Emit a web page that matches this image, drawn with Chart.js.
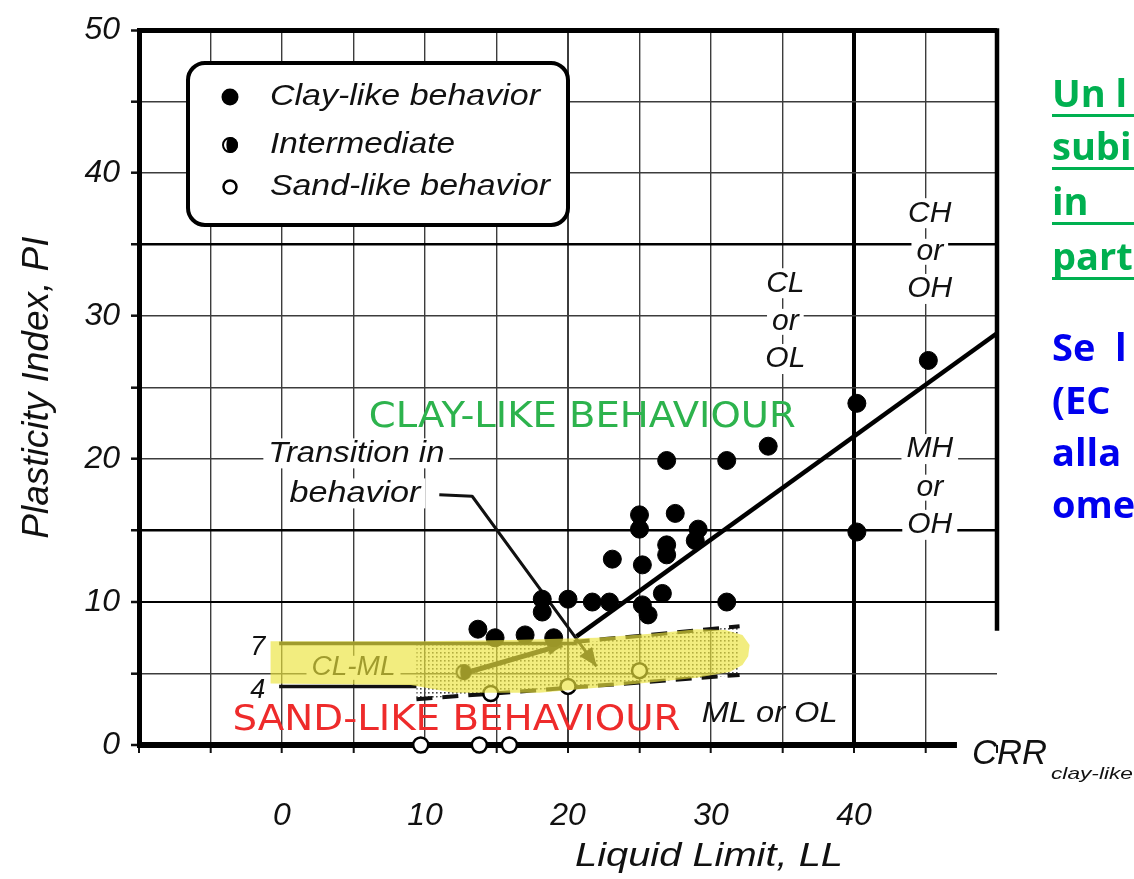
<!DOCTYPE html>
<html><head><meta charset="utf-8">
<script src="https://cdn.jsdelivr.net/npm/chart.js@4.4.1/dist/chart.umd.min.js"></script>
<style>html,body{margin:0;padding:0;background:#fff;overflow:hidden}#wrap{position:relative;width:1134px;height:879px}</style>
</head><body><div id="wrap"><canvas id="c" width="1134" height="879"></canvas></div>
<script>
// ---- data (LL, PI) ----
const clayLike = [
  {x:34.0,y:20.9},{x:26.9,y:19.9},{x:31.1,y:19.9},{x:25.0,y:16.1},{x:25.0,y:15.1},
  {x:27.5,y:16.2},{x:29.1,y:15.1},{x:28.9,y:14.3},{x:26.9,y:14.0},{x:26.9,y:13.3},
  {x:23.1,y:13.0},{x:25.2,y:12.6},{x:26.6,y:10.6},{x:31.1,y:10.0},{x:20.0,y:10.2},
  {x:21.7,y:10.0},{x:22.9,y:10.0},{x:18.2,y:10.2},{x:18.2,y:9.3},{x:25.2,y:9.8},
  {x:25.6,y:9.1},{x:13.7,y:8.1},{x:14.9,y:7.5},{x:17.0,y:7.7},{x:19.0,y:7.5},
  {x:40.2,y:23.9},{x:40.2,y:14.9},{x:45.2,y:26.9}
];
const intermediate = [{x:12.7,y:5.1}];
const sandLike = [{x:9.7,y:0},{x:13.8,y:0},{x:15.9,y:0},{x:14.6,y:3.6},{x:20.0,y:4.1},{x:25.0,y:5.2}];
const aLine = [{x:20.6,y:7.6},{x:50,y:28.8}];
const clmlUpper = [{x:-0.2,y:7.1},{x:20.6,y:7.1}];
const clmlLower = [{x:-0.2,y:4.1},{x:9.4,y:4.1}];
const transUpper = [{x:20.4,y:7.2},{x:32,y:8.3}];
const transLower = [{x:9.4,y:3.2},{x:32,y:4.9}];
const transitionLeader = [[11.0,17.5],[13.3,17.4],[22.0,5.5]];
const secondArrow = [[12.7,5.0],[19.6,7.0]];
const highlightShape = [[-0.8,7.25],[9.6,7.25],[16,7.35],[22,7.5],[26,7.8],[29,8.1],[31,8.05],[32.2,7.7],[32.7,7.0],[32.6,6.2],
  [32.2,5.6],[31.3,5.1],[29,4.7],[25,4.3],[22,4.0],[18,3.65],[12,3.65],[9,4.2],[-0.8,4.3]];
const xTickLabels = [0,10,20,30,40];
const yTickLabels = [0,10,20,30,40,50];
const legendLabels = ['Clay-like behavior','Intermediate','Sand-like behavior'];

const IT = 'italic 30px "Liberation Sans", Arial, sans-serif';

function halfDot(r){
  const c=document.createElement('canvas'); const s=2*r+4; c.width=s; c.height=s;
  const g=c.getContext('2d'); const m=s/2;
  g.fillStyle='#fff'; g.beginPath(); g.arc(m,m,r,0,Math.PI*2); g.fill();
  g.fillStyle='#000'; g.beginPath(); g.arc(m,m,r,-Math.PI/2,Math.PI/2); g.fill();
  g.beginPath(); g.ellipse(m,m,r*0.45,r,0,Math.PI/2,Math.PI*1.5); g.fill();
  g.lineWidth=2; g.strokeStyle='#000'; g.beginPath(); g.arc(m,m,r-1,0,Math.PI*2); g.stroke();
  return c;
}
const halfImg = halfDot(8);

function txt(ctx,s,x,y,font,color,w,align,bgH){
  ctx.save(); ctx.font=font; ctx.textBaseline='middle'; ctx.textAlign='left';
  const m=ctx.measureText(s).width; const sx=w? w/m:1; const W=m*sx;
  const left = align==='left'? x : align==='right'? x-W : x-W/2;
  if(bgH){ ctx.fillStyle='#fff'; ctx.fillRect(left-5,y-bgH/2,W+10,bgH); }
  ctx.translate(left,y); ctx.scale(sx,1); ctx.fillStyle=color; ctx.fillText(s,0,0); ctx.restore();
}

const annot = {
  id:'annot',
  beforeDatasetsDraw(chart){
    const ctx=chart.ctx, X=chart.scales.x, Y=chart.scales.y;
    const px=v=>X.getPixelForValue(v), py=v=>Y.getPixelForValue(v);
    const pat=document.createElement('canvas'); pat.width=4; pat.height=4;
    const pc=pat.getContext('2d'); pc.fillStyle='#444'; pc.fillRect(0,0,1.6,1.6);
    ctx.save(); ctx.fillStyle=ctx.createPattern(pat,'repeat');
    ctx.beginPath(); ctx.moveTo(px(9.4),py(7.1)); ctx.lineTo(px(20.4),py(7.1)); ctx.lineTo(px(32),py(8.3));
    ctx.lineTo(px(32),py(4.9)); ctx.lineTo(px(9.4),py(3.2)); ctx.closePath(); ctx.fill(); ctx.restore();
    const c='#111';
    txt(ctx,'CL',px(35.2),py(32.3),IT,c,null,'center',30);
    txt(ctx,'or',px(35.2),py(29.6),IT,c,null,'center',26);
    txt(ctx,'OL',px(35.2),py(27.0),IT,c,null,'center',30);
    txt(ctx,'CH',px(45.3),py(37.2),IT,c,null,'center',30);
    txt(ctx,'or',px(45.3),py(34.5),IT,c,null,'center',26);
    txt(ctx,'OH',px(45.3),py(31.9),IT,c,null,'center',30);
    txt(ctx,'MH',px(45.3),py(20.7),IT,c,null,'center',30);
    txt(ctx,'or',px(45.3),py(18.0),IT,c,null,'center',26);
    txt(ctx,'OH',px(45.3),py(15.4),IT,c,null,'center',30);
    txt(ctx,'ML or OL',px(34.1),py(2.2),IT,c,136,'center',0);
    txt(ctx,'CL-ML',px(5.0),py(5.4),'italic 27px "Liberation Sans", Arial, sans-serif',c,84,'center',24);
    txt(ctx,'7',px(-1.7),py(6.8),'italic 27px "Liberation Sans", Arial, sans-serif',c,null,'center',0);
    txt(ctx,'4',px(-1.7),py(3.8),'italic 27px "Liberation Sans", Arial, sans-serif',c,null,'center',0);
    txt(ctx,'Transition in',px(5.2),py(20.4),IT,c,176,'center',30);
    txt(ctx,'behavior',px(5.1),py(17.6),IT,c,131,'center',30);
    ctx.save(); ctx.strokeStyle='#111'; ctx.lineWidth=3; ctx.lineJoin='round';
    ctx.beginPath(); transitionLeader.forEach((p,i)=>{const a=px(p[0]),b=py(p[1]); i?ctx.lineTo(a,b):ctx.moveTo(a,b);}); ctx.stroke();
    const arrowHead=(p1,p2,sz)=>{const ang=Math.atan2(p2[1]-p1[1],p2[0]-p1[0]);
      ctx.beginPath(); ctx.moveTo(p2[0],p2[1]);
      ctx.lineTo(p2[0]-sz*Math.cos(ang-0.4),p2[1]-sz*Math.sin(ang-0.4));
      ctx.lineTo(p2[0]-sz*Math.cos(ang+0.4),p2[1]-sz*Math.sin(ang+0.4)); ctx.closePath(); ctx.fillStyle='#111'; ctx.fill();};
    const L=transitionLeader.length;
    arrowHead([px(transitionLeader[L-2][0]),py(transitionLeader[L-2][1])],[px(transitionLeader[L-1][0]),py(transitionLeader[L-1][1])],20);
    const a1=[px(secondArrow[0][0]),py(secondArrow[0][1])], a2=[px(secondArrow[1][0]),py(secondArrow[1][1])];
    ctx.lineWidth=5; ctx.beginPath(); ctx.moveTo(a1[0],a1[1]); ctx.lineTo(a2[0],a2[1]); ctx.stroke();
    arrowHead(a1,a2,16);
    ctx.strokeStyle='#000'; ctx.lineCap='butt';
    ctx.lineWidth=6; ctx.beginPath(); ctx.moveTo(px(-10)-2,py(0)); ctx.lineTo(px(47.2),py(0)); ctx.stroke();
    ctx.lineWidth=4.5; ctx.beginPath(); ctx.moveTo(px(50),py(50)-2); ctx.lineTo(px(50),py(8.0)); ctx.stroke();
    ctx.restore();
  },
  afterDatasetsDraw(chart){
    const ctx=chart.ctx, X=chart.scales.x, Y=chart.scales.y;
    const px=v=>X.getPixelForValue(v), py=v=>Y.getPixelForValue(v);
    ctx.save(); ctx.fillStyle='rgba(236,228,60,0.66)'; ctx.beginPath();
    highlightShape.forEach((p,i)=>{const a=px(p[0]),b=py(p[1]); i?ctx.lineTo(a,b):ctx.moveTo(a,b);});
    ctx.closePath(); ctx.fill(); ctx.restore();
    txt(ctx,'CLAY-LIKE BEHAVIOUR',px(21.0),py(22.9),'36px "DejaVu Sans", sans-serif','#2db34d',427,'center',0);
    txt(ctx,'SAND-LIKE BEHAVIOUR',px(12.2),py(1.7),'36px "DejaVu Sans", sans-serif','#ee2b2b',448,'center',0);
  },
  afterDraw(chart){
    const ctx=chart.ctx;
    ctx.save(); ctx.fillStyle='#fff'; ctx.strokeStyle='#000'; ctx.lineWidth=4;
    ctx.beginPath(); ctx.roundRect(188,63,380,162,17); ctx.fill(); ctx.stroke();
    ctx.fillStyle='#000'; ctx.beginPath(); ctx.arc(230,97,8.5,0,Math.PI*2); ctx.fill();
    ctx.drawImage(halfImg,230-halfImg.width/2,145-halfImg.height/2);
    ctx.lineWidth=2.5; ctx.beginPath(); ctx.arc(230,187,6.5,0,Math.PI*2); ctx.stroke();
    ctx.restore();
    const LF='italic 29px "Liberation Sans", Arial, sans-serif';
    txt(ctx,legendLabels[0],270,97,LF,'#111',270,'left',0);
    txt(ctx,legendLabels[1],270,145,LF,'#111',185,'left',0);
    txt(ctx,legendLabels[2],270,187,LF,'#111',280,'left',0);
    txt(ctx,'Liquid Limit, LL',709,857,'italic 34px "Liberation Sans", Arial, sans-serif','#111',268,'center',0);
    txt(ctx,'CRR',972,754,'italic 35px "Liberation Sans", Arial, sans-serif','#111',75,'left',0);
    txt(ctx,'clay-like',1051,774,'italic 17px "Liberation Sans", Arial, sans-serif','#111',82,'left',0);
    const GF='bold 38px "Open Sans", "Noto Sans", sans-serif';
    const green='#00b050', blue='#0000ee';
    [['Un l',96],['subi',149],['in',204],['part',259]].forEach(r=>{
      txt(ctx,r[0],1052,r[1],GF,green,null,'left',0);
      ctx.save(); ctx.fillStyle=green; ctx.fillRect(1052,r[1]+18,90,3); ctx.restore();
    });
    [['Se  l',350],['(EC',403],['alla',455],['ome',507]].forEach(r=>txt(ctx,r[0],1052,r[1],GF,blue,null,'left',0));
  }
};

const gridColor = '#3c3c3c';
const tickFont = {family:'"Liberation Sans", Arial, sans-serif',style:'italic',size:32};
new Chart(document.getElementById('c'),{
  type:'scatter',
  data:{datasets:[
    {type:'line',label:'A-line',data:aLine,borderColor:'#000',borderWidth:4.5,pointRadius:0,fill:false,order:5},
    {type:'line',label:'CL-ML upper',data:clmlUpper,borderColor:'#111',borderWidth:3.5,pointRadius:0,fill:false,order:5},
    {type:'line',label:'CL-ML lower',data:clmlLower,borderColor:'#111',borderWidth:3.5,pointRadius:0,fill:false,order:5},
    {type:'line',label:'Transition upper',data:transUpper,borderColor:'#111',borderWidth:4,borderDash:[16,10],pointRadius:0,fill:false,order:5},
    {type:'line',label:'Transition lower',data:transLower,borderColor:'#111',borderWidth:4,borderDash:[16,10],pointRadius:0,fill:false,order:5},
    {label:legendLabels[0],data:clayLike,pointStyle:'circle',pointRadius:9,backgroundColor:'#000',borderColor:'#000',borderWidth:1,order:1,clip:false},
    {label:legendLabels[1],data:intermediate,pointStyle:halfImg,order:1,clip:false},
    {label:legendLabels[2],data:sandLike,pointStyle:'circle',pointRadius:7.5,backgroundColor:'#fff',borderColor:'#000',borderWidth:2.5,order:0,clip:false}
  ]},
  options:{
    responsive:false, animation:false, devicePixelRatio:1,
    layout:{padding:{top:21,right:137,left:0,bottom:0}},
    plugins:{legend:{display:false},tooltip:{enabled:false}},
    scales:{
      x:{type:'linear',min:-10,max:50,
        afterFit(s){s.height=134;},
        ticks:{stepSize:5,autoSkip:false,maxRotation:0,padding:44,color:'#111',font:tickFont,
          callback:v=>xTickLabels.includes(v)?String(v):''},
        grid:{color:c=>c.tick&&c.tick.value===40?'#000':gridColor,
          lineWidth:c=>{const v=c.tick&&c.tick.value; if(v===-10||v===50) return 0; if(v===40) return 4; if(v===20) return 2; return 1.4;},
          tickLength:8,tickWidth:2,tickColor:'#111'},
        border:{display:false}},
      y:{min:0,max:50,
        afterFit(s){s.width=139;},
        ticks:{stepSize:5,autoSkip:false,padding:11,color:'#111',font:tickFont,
          callback:v=>yTickLabels.includes(v)?String(v):''},
        grid:{color:c=>{const v=c.tick&&c.tick.value; return (v===50||v===35||v===15||v===10)?'#000':gridColor;},
          lineWidth:c=>{const v=c.tick&&c.tick.value; if(v===0) return 0; if(v===50) return 5; if(v===35||v===15) return 2.5; if(v===10) return 2; return 1.4;},
          tickLength:8,tickWidth:2.5,tickColor:'#111'},
        border:{display:true,width:5,color:'#000'},
        title:{display:true,text:'Plasticity Index, PI',color:'#111',padding:{top:16,bottom:0},
          font:{family:'"Liberation Sans", Arial, sans-serif',style:'italic',size:37}}}
    }
  },
  plugins:[annot]
});
</script></body></html>
